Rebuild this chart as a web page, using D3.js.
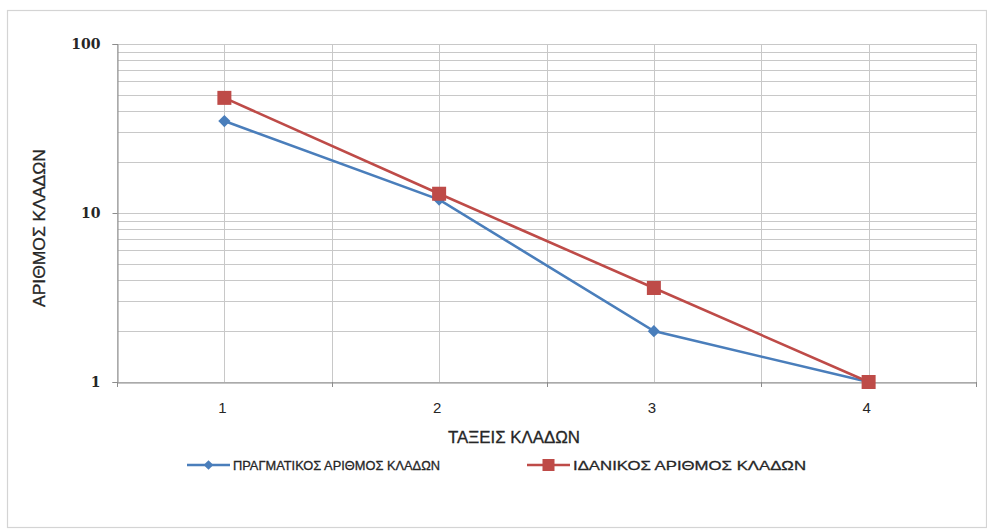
<!DOCTYPE html>
<html>
<head>
<meta charset="utf-8">
<script src="https://cdn.jsdelivr.net/npm/d3@7"></script>
<style>
  html, body { margin: 0; padding: 0; background: #fff; }
  svg { display: block; }
</style>
</head>
<body>
<script>
// Stream orders and branch counts
const categories = ["1", "2", "3", "4"];
const actualCounts = [35, 12, 2, 1];
const idealCounts = [48, 13, 3.6, 1];
const yTickLabels = [1, 10, 100];
const seriesNames = ["ΠΡΑΓΜΑΤΙΚΟΣ ΑΡΙΘΜΟΣ ΚΛΑΔΩΝ", "ΙΔΑΝΙΚΟΣ ΑΡΙΘΜΟΣ ΚΛΑΔΩΝ"];
const xTitle = "ΤΑΞΕΙΣ ΚΛΑΔΩΝ";
const yTitle = "ΑΡΙΘΜΟΣ ΚΛΑΔΩΝ";

const W = 987, H = 529;
const plot = { left: 117, right: 976, top: 44, bottom: 382 };

const svg = d3.select("body").append("svg").attr("width", W).attr("height", H);

// chart frame
svg.append("rect")
  .attr("x", 7.5).attr("y", 10.5).attr("width", W - 8).attr("height", 517)
  .attr("fill", "#fff").attr("stroke", "#d4d4d4").attr("stroke-width", 1.2);

const x = d3.scaleBand().domain(categories).range([plot.left, plot.right]);
const y = d3.scaleLog().domain([1, 100]).range([plot.bottom, plot.top]);

const labelFont = "'Liberation Sans', Arial, sans-serif";
const tickFont = "'DejaVu Serif', 'Liberation Serif', serif";
const textColor = "#262626";

// horizontal gridlines (log minor + major)
const gridVals = [];
for (let d = 1; d < 100; d *= 10) for (let k = 1; k < 10; k++) gridVals.push(d * k);
gridVals.push(100);
svg.append("g").selectAll("line").data(gridVals).join("line")
  .attr("x1", plot.left).attr("x2", plot.right)
  .attr("y1", d => Math.round(y(d)) + 0.5).attr("y2", d => Math.round(y(d)) + 0.5)
  .attr("stroke", "#c8c8c8").attr("stroke-width", 1);

// vertical gridlines at band edges and band centres
const vVals = [];
categories.forEach(c => { vVals.push(x(c)); vVals.push(x(c) + x.bandwidth() / 2); });
vVals.push(plot.right);
svg.append("g").selectAll("line").data(vVals).join("line")
  .attr("x1", d => Math.round(d) + 0.5).attr("x2", d => Math.round(d) + 0.5)
  .attr("y1", plot.top).attr("y2", plot.bottom)
  .attr("stroke", "#c8c8c8").attr("stroke-width", 1);

// y axis
const yAxis = svg.append("g").attr("transform", `translate(${plot.left + 0.5},0)`)
  .call(d3.axisLeft(y).tickValues(yTickLabels).tickFormat(d3.format("d")).tickSize(5).tickPadding(12));
yAxis.select(".domain").attr("stroke", "#8c8c8c");
yAxis.selectAll(".tick line").attr("stroke", "#8c8c8c");
yAxis.selectAll("text").attr("font-family", tickFont).attr("font-weight", "bold")
  .attr("font-size", 14).attr("fill", textColor);

// x axis
const xAxis = svg.append("g").attr("transform", `translate(0,${plot.bottom + 0.5})`)
  .call(d3.axisBottom(x).tickSize(0).tickPadding(20));
xAxis.select(".domain").attr("stroke", "#8c8c8c");
xAxis.selectAll("text").attr("font-family", labelFont).attr("font-size", 15)
  .attr("fill", textColor).attr("dx", -2);
// tick marks at category boundaries
svg.append("g").selectAll("line").data(categories.map(c => x(c)).concat([plot.right])).join("line")
  .attr("x1", d => Math.round(d) + 0.5).attr("x2", d => Math.round(d) + 0.5)
  .attr("y1", plot.bottom).attr("y2", plot.bottom + 5)
  .attr("stroke", "#8c8c8c");

// axis titles
svg.append("text").attr("x", 514).attr("y", 443)
  .attr("text-anchor", "middle").attr("font-family", labelFont).attr("font-size", 16)
  .attr("textLength", 132).attr("lengthAdjust", "spacingAndGlyphs")
  .attr("fill", textColor).attr("stroke", textColor).attr("stroke-width", 0.3).text(xTitle);
svg.append("text").attr("transform", `translate(45,228) rotate(-90)`)
  .attr("text-anchor", "middle").attr("font-family", labelFont).attr("font-size", 16)
  .attr("textLength", 158).attr("lengthAdjust", "spacingAndGlyphs")
  .attr("fill", textColor).attr("stroke", textColor).attr("stroke-width", 0.3).text(yTitle);

const cx = c => x(c) + x.bandwidth() / 2;
const line = d3.line().x((d, i) => cx(categories[i])).y(d => y(d));

const blue = "#4A7EBB", red = "#BE4B48";

// actual series (diamonds)
svg.append("path").datum(actualCounts).attr("d", line)
  .attr("fill", "none").attr("stroke", blue).attr("stroke-width", 2.6);
svg.append("g").selectAll("path").data(actualCounts).join("path")
  .attr("transform", (d, i) => `translate(${cx(categories[i])},${y(d)})`)
  .attr("d", d3.symbol(d3.symbolDiamond2, 95)())
  .attr("fill", blue);

// ideal series (squares)
svg.append("path").datum(idealCounts).attr("d", line)
  .attr("fill", "none").attr("stroke", red).attr("stroke-width", 2.6);
svg.append("g").selectAll("rect").data(idealCounts).join("rect")
  .attr("x", (d, i) => cx(categories[i]) - 7).attr("y", d => y(d) - 7)
  .attr("width", 14).attr("height", 14).attr("fill", red);

// legend
const legend = svg.append("g").attr("transform", "translate(0,465)");
const items = [
  { name: seriesNames[0], color: blue, x0: 187, shape: "diamond", len: 207 },
  { name: seriesNames[1], color: red, x0: 527, shape: "square", len: 233 }
];
items.forEach(it => {
  const g = legend.append("g").attr("transform", `translate(${it.x0},0)`);
  g.append("line").attr("x1", 0).attr("x2", 43).attr("y1", 0).attr("y2", 0)
    .attr("stroke", it.color).attr("stroke-width", 2.6);
  if (it.shape === "diamond") {
    g.append("path").attr("transform", "translate(21.5,0)")
      .attr("d", d3.symbol(d3.symbolDiamond2, 60)()).attr("fill", it.color);
  } else {
    g.append("rect").attr("x", 15.5).attr("y", -6).attr("width", 12).attr("height", 12).attr("fill", it.color);
  }
  g.append("text").attr("x", 46).attr("y", 5).attr("font-family", labelFont)
    .attr("font-size", 13).attr("textLength", it.len).attr("lengthAdjust", "spacingAndGlyphs")
    .attr("fill", textColor).attr("stroke", textColor).attr("stroke-width", 0.3).text(it.name);
});
</script>
</body>
</html>
